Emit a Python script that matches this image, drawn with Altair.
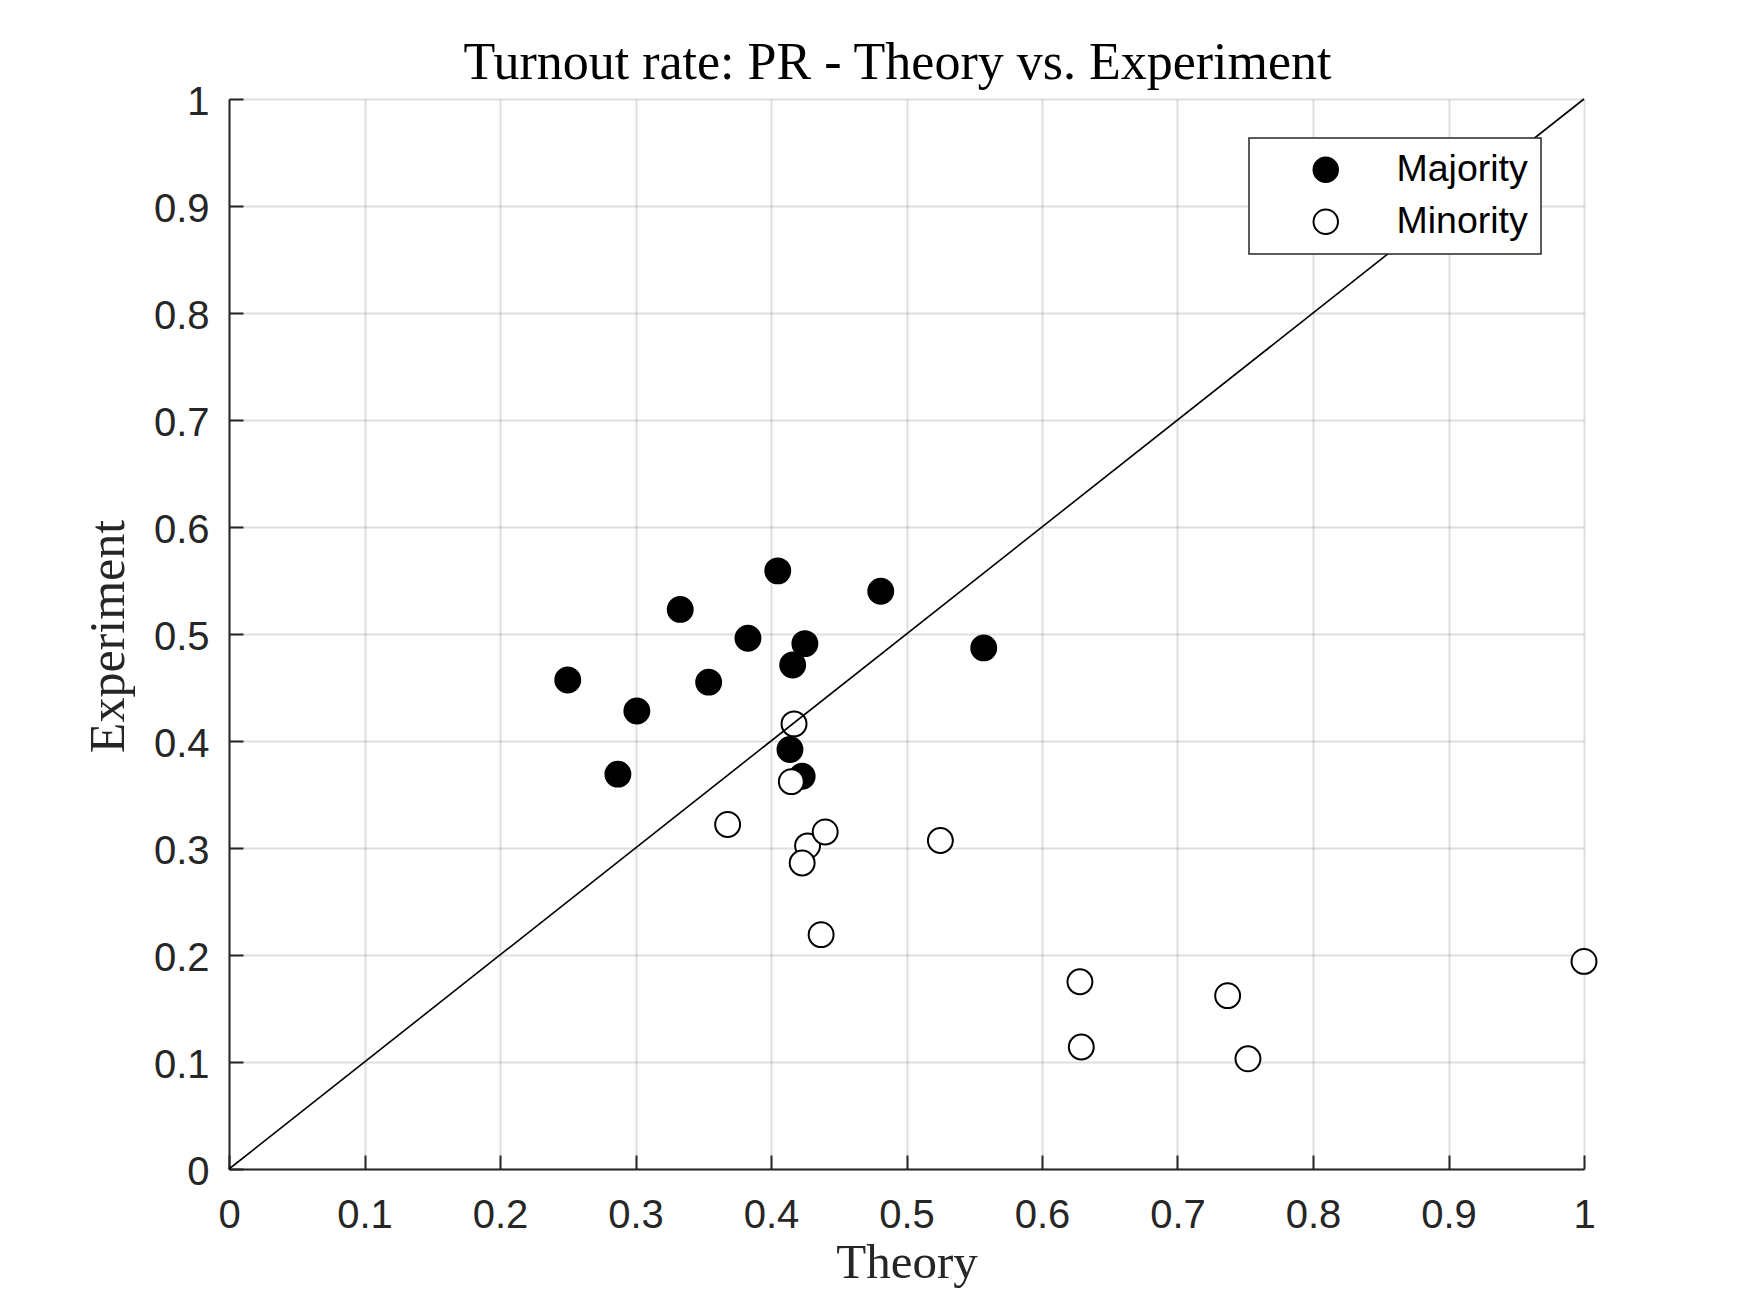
import altair as alt
import pandas as pd

# ---- data ----
maj_x = [0.250, 0.287, 0.301, 0.333, 0.354, 0.383, 0.405, 0.425, 0.416, 0.481, 0.557, 0.414, 0.423]
maj_y = [0.457, 0.369, 0.428, 0.523, 0.455, 0.496, 0.559, 0.491, 0.471, 0.540, 0.487, 0.392, 0.367]
min_x = [0.417, 0.415, 0.368, 0.427, 0.440, 0.423, 0.525, 0.437, 0.628, 0.629, 0.737, 0.752, 1.000]
min_y = [0.416, 0.362, 0.322, 0.302, 0.315, 0.286, 0.307, 0.219, 0.175, 0.114, 0.162, 0.103, 0.194]
categories = ["Majority", "Minority"]
tick_values = [0, 0.1, 0.2, 0.3, 0.4, 0.5, 0.6, 0.7, 0.8, 0.9, 1]
diag_vals = [0, 1]

df = pd.DataFrame({
    "theory": maj_x + min_x,
    "experiment": maj_y + min_y,
    "group": [categories[0]] * len(maj_x) + [categories[1]] * len(min_x),
})
diag = pd.DataFrame({"theory": diag_vals, "experiment": diag_vals})

W, H = 1355, 1070
AX = "#262626"
SANS = "Liberation Sans"
SERIF = "Liberation Serif"

xscale = alt.Scale(domain=[0, 1], nice=False, zero=False)
yscale = alt.Scale(domain=[0, 1], nice=False, zero=False)

x_axis = alt.Axis(
    values=tick_values, format="~g", grid=True, gridColor=AX, gridOpacity=0.15, gridWidth=2,
    ticks=False, tickSize=0, domain=True, domainColor=AX, domainWidth=2, labelFlush=False,
    labelFont=SANS, labelFontSize=40, labelColor=AX, labelPadding=58, labelBaseline="alphabetic",
    title="Theory", titleFont=SERIF, titleFontSize=49, titleFontWeight="normal", titleColor=AX,
    titleBaseline="alphabetic", titleX=W / 2, titleY=108, titleAnchor="middle",
)
y_axis = alt.Axis(
    values=tick_values, format="~g", grid=True, gridColor=AX, gridOpacity=0.15, gridWidth=2,
    ticks=False, tickSize=0, domain=True, domainColor=AX, domainWidth=2, labelFlush=False,
    labelFont=SANS, labelFontSize=40, labelColor=AX, labelPadding=20, labelOffset=3,
    title="Experiment", titleFont=SERIF, titleFontSize=50, titleFontWeight="normal", titleColor=AX,
    titleBaseline="alphabetic", titleAngle=270, titleX=-106, titleY=537, titleAnchor="middle",
)

points = alt.Chart(df).mark_point(
    filled=True, shape="circle", size=620, stroke="black", strokeWidth=2, opacity=1
).encode(
    x=alt.X("theory:Q", scale=xscale, axis=x_axis),
    y=alt.Y("experiment:Q", scale=yscale, axis=y_axis),
    fill=alt.Fill(
        "group:N",
        scale=alt.Scale(domain=categories, range=["#000000", "#ffffff"]),
        legend=alt.Legend(
            title=None, orient="none", legendX=1020, legendY=39,
            symbolType="circle", symbolSize=600, symbolStrokeColor="black", symbolStrokeWidth=2,
            labelFont=SANS, labelFontSize=37.5, labelColor="black",
            padding=13, rowPadding=13, symbolOffset=45, labelOffset=52,
            strokeColor=AX, fillColor="white",
        ),
    ),
)

# inward tick marks carried by a second (tick-only) axis pair on the diagonal layer
x_ticks_axis = alt.Axis(
    orient="top", offset=-H, values=tick_values, labels=False, domain=False, grid=False,
    ticks=True, tickSize=14, tickWidth=2, tickColor=AX, title=None,
)
y_ticks_axis = alt.Axis(
    orient="right", offset=-W, values=tick_values, labels=False, domain=False, grid=False,
    ticks=True, tickSize=14, tickWidth=2, tickColor=AX, title=None,
)

line = alt.Chart(diag).mark_line(color="black", strokeWidth=1.6).encode(
    x=alt.X("theory:Q", scale=xscale, axis=x_ticks_axis),
    y=alt.Y("experiment:Q", scale=yscale, axis=y_ticks_axis),
)

chart = alt.layer(points, line).resolve_axis(x="independent", y="independent").properties(
    width=W, height=H,
    autosize=alt.AutoSizeParams(type="none"),
    padding={"left": 221, "top": 91, "right": 158, "bottom": 136},
    title=alt.TitleParams(
        "Turnout rate: PR - Theory vs. Experiment",
        font=SERIF, fontSize=52, fontWeight="normal", color="black",
        anchor="middle", frame="group", baseline="alphabetic", offset=-49, dx=-9,
    ),
).configure_view(stroke=None).configure_legend(strokeWidth=1.5)

chart.save("out.html", embed_options={"renderer": "svg", "actions": False})
